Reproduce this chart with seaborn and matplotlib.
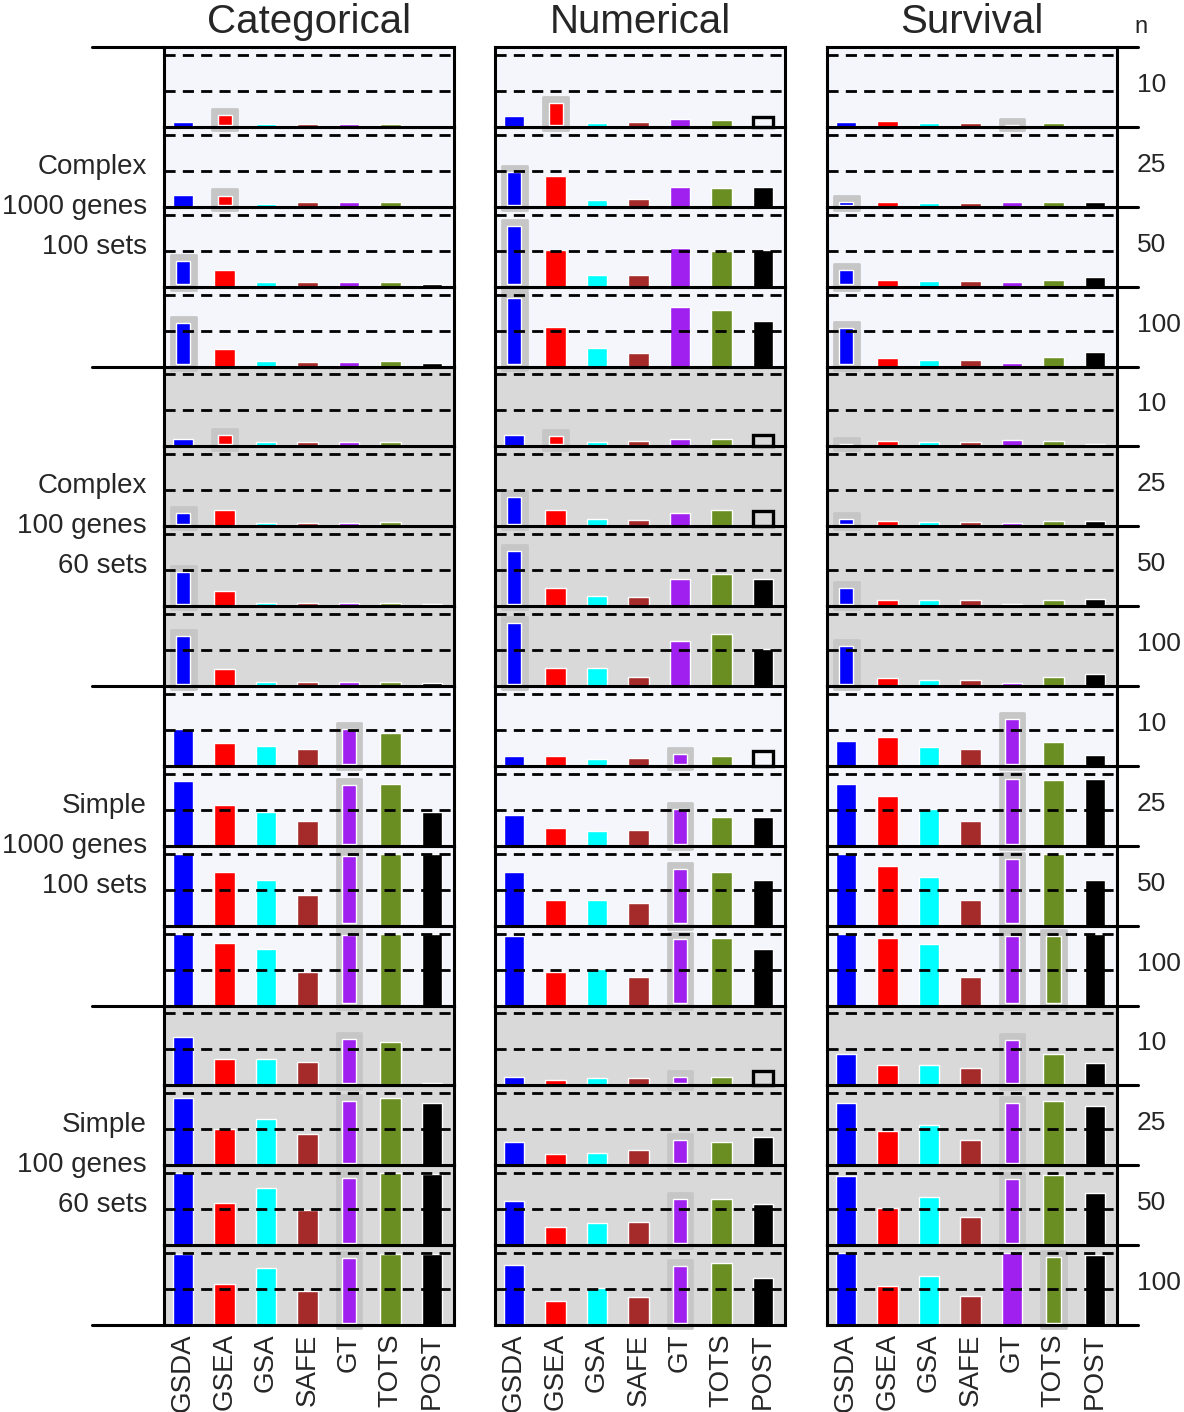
import numpy as np
import pandas as pd
import matplotlib
matplotlib.use('Agg')
import matplotlib.pyplot as plt
from matplotlib.lines import Line2D
import seaborn as sns

nan = np.nan

methods = ['GSDA', 'GSEA', 'GSA', 'SAFE', 'GT', 'TOTS', 'POST']
method_colors = ['#0000ff', '#ff0000', '#00ffff', '#a52a2a', '#a020f0', '#6b8e23', '#000000']
tests = ['Categorical', 'Numerical', 'Survival']
n_values = ['10', '25', '50', '100']
scenarios = [['Complex', '1000 genes', '100 sets'],
             ['Complex', '100 genes', '60 sets'],
             ['Simple', '1000 genes', '100 sets'],
             ['Simple', '100 genes', '60 sets']]

# power per row (scenario x n), one value per method
cat_values = [
    [0.07, 0.16, 0.045, 0.045, 0.045, 0.045, nan],
    [0.17, 0.155, 0.045, 0.06, 0.06, 0.06, nan],
    [0.35, 0.23, 0.07, 0.06, 0.06, 0.07, 0.035],
    [0.60, 0.24, 0.07, 0.06, 0.06, 0.07, 0.045],
    [0.10, 0.155, 0.055, 0.065, 0.065, 0.065, nan],
    [0.18, 0.22, 0.05, 0.045, 0.045, 0.06, nan],
    [0.48, 0.21, 0.05, 0.05, 0.05, 0.05, 0.03],
    [0.69, 0.23, 0.06, 0.06, 0.06, 0.06, 0.04],
    [0.51, 0.32, 0.28, 0.24, 0.51, 0.46, nan],
    [0.90, 0.56, 0.47, 0.35, 0.85, 0.86, 0.47],
    [1.00, 0.74, 0.64, 0.42, 0.97, 1.00, 0.99],
    [1.00, 0.87, 0.78, 0.46, 0.98, 1.00, 1.00],
    [0.67, 0.36, 0.37, 0.32, 0.64, 0.60, 0.035],
    [0.93, 0.51, 0.65, 0.44, 0.89, 0.93, 0.86],
    [1.00, 0.58, 0.79, 0.49, 0.94, 1.00, 0.99],
    [0.99, 0.57, 0.79, 0.47, 0.93, 0.99, 0.99],
]
num_values = [
    [0.155, 0.33, 0.06, 0.065, 0.115, 0.10, nan],
    [0.48, 0.43, 0.10, 0.11, 0.27, 0.26, 0.27],
    [0.84, 0.51, 0.16, 0.16, 0.54, 0.50, 0.51],
    [0.95, 0.55, 0.26, 0.19, 0.83, 0.78, 0.63],
    [0.155, 0.145, 0.06, 0.075, 0.10, 0.10, nan],
    [0.40, 0.22, 0.10, 0.08, 0.19, 0.22, nan],
    [0.77, 0.25, 0.14, 0.12, 0.38, 0.45, 0.38],
    [0.87, 0.25, 0.25, 0.13, 0.63, 0.72, 0.52],
    [0.14, 0.14, 0.10, 0.11, 0.16, 0.14, nan],
    [0.43, 0.25, 0.21, 0.22, 0.51, 0.40, 0.40],
    [0.75, 0.35, 0.35, 0.32, 0.79, 0.74, 0.64],
    [0.96, 0.46, 0.51, 0.39, 0.93, 0.94, 0.79],
    [0.11, 0.08, 0.10, 0.10, 0.12, 0.12, nan],
    [0.32, 0.15, 0.17, 0.21, 0.35, 0.33, 0.39],
    [0.61, 0.25, 0.31, 0.32, 0.64, 0.64, 0.57],
    [0.83, 0.33, 0.51, 0.39, 0.82, 0.86, 0.65],
]
surv_values = [
    [0.065, 0.08, 0.055, 0.055, 0.03, 0.055, nan],
    [0.06, 0.065, 0.055, 0.055, 0.065, 0.065, 0.065],
    [0.23, 0.09, 0.075, 0.075, 0.065, 0.09, 0.13],
    [0.54, 0.115, 0.09, 0.09, 0.045, 0.13, 0.20],
    [0.03, 0.08, 0.065, 0.065, 0.09, 0.08, 0.035],
    [0.10, 0.075, 0.055, 0.055, 0.045, 0.075, 0.075],
    [0.25, 0.08, 0.08, 0.08, 0.035, 0.09, 0.10],
    [0.55, 0.11, 0.09, 0.09, 0.045, 0.13, 0.16],
    [0.35, 0.40, 0.26, 0.24, 0.65, 0.33, 0.15],
    [0.86, 0.69, 0.51, 0.35, 0.93, 0.92, 0.93],
    [0.99, 0.83, 0.68, 0.36, 0.93, 0.99, 0.64],
    [1.00, 0.94, 0.86, 0.40, 0.96, 0.96, 1.00],
    [0.44, 0.28, 0.29, 0.24, 0.63, 0.43, 0.31],
    [0.86, 0.47, 0.56, 0.35, 0.87, 0.90, 0.83],
    [0.96, 0.51, 0.67, 0.39, 0.92, 0.97, 0.72],
    [1.00, 0.54, 0.68, 0.40, 1.00, 0.94, 0.97],
]

# methods drawn with the grey highlight, per row
cat_marked = [['GSEA'], ['GSEA'], ['GSDA'], ['GSDA'], ['GSEA'], ['GSDA'], ['GSDA'], ['GSDA']] + [['GT']] * 8
num_marked = [['GSEA'], ['GSDA'], ['GSDA'], ['GSDA'], ['GSEA'], ['GSDA'], ['GSDA'], ['GSDA']] + [['GT']] * 8
surv_marked = [['GT'], ['GSDA'], ['GSDA'], ['GSDA'], ['GSDA'], ['GSDA'], ['GSDA'], ['GSDA'],
               ['GT'], ['GT'], ['GT'], ['GT', 'TOTS'], ['GT'], ['GT'], ['GT'], ['TOTS']]

# POST not available (open box), row -> box height
num_post_na = {0: 0.14, 4: 0.16, 5: 0.21, 8: 0.2, 12: 0.2}

all_values = [cat_values, num_values, surv_values]
all_marked = [cat_marked, num_marked, surv_marked]
all_na = [{}, num_post_na, {}]

records = []
for t, test in enumerate(tests):
    for r in range(16):
        for m, meth in enumerate(methods):
            records.append({'test': test, 'row': r, 'method': meth,
                            'value': all_values[t][r][m],
                            'marked': meth in all_marked[t][r]})
df = pd.DataFrame(records)

sns.set_theme(style='white')
plt.rcParams['font.family'] = ['Liberation Sans', 'DejaVu Sans']

W, H = 1184, 1412
fig = plt.figure(figsize=(W / 100, H / 100), dpi=100)

col_left = [164, 495, 827]
col_w = 290
top, bottom = 47, 1325
row_h = (bottom - top) / 16
bg_colors = ['#f5f6fc', '#d9d9d9', '#f5f6fc', '#d9d9d9']
grey = '#c6c6c6'
palette = dict(zip(methods, method_colors))


def fx(x):
    return x / W


def fy(y):
    return 1 - y / H


for t, test in enumerate(tests):
    for r in range(15, -1, -1):
        y0 = top + r * row_h
        ax = fig.add_axes([fx(col_left[t]), fy(y0 + row_h), col_w / W, row_h / H])
        ax.set_facecolor(bg_colors[r // 4])
        sub = df[(df['test'] == test) & (df['row'] == r)]
        plain = sub[~sub['marked'] & sub['value'].notna()]
        sns.barplot(data=plain, x='method', y='value', hue='method', order=methods,
                    hue_order=methods, palette=palette, width=0.5, saturation=1,
                    legend=False, ax=ax, zorder=3)
        for _, row in sub[sub['marked']].iterrows():
            xi = methods.index(row['method'])
            v = row['value']
            gb = ax.bar(xi, v + 0.085 + 0.045, bottom=-0.045, width=0.6, color=grey,
                        edgecolor=grey, linewidth=2, zorder=2, clip_on=False)
            for p in gb.patches:
                p.set_joinstyle('round')
            ax.bar(xi, max(v - 0.03, 0), bottom=0.03, width=0.34,
                   color=palette[row['method']], zorder=3)
        if r in all_na[t]:
            ax.bar(methods.index('POST'), all_na[t][r], width=0.46, facecolor='none',
                   edgecolor='black', linewidth=2.4, zorder=3, clip_on=False)
        for yl in (0.5, 1.0):
            ax.axhline(yl, color='black', lw=2.0, ls=(0, (4, 2.6)), zorder=4)
        ax.set_xlim(-0.46, 6.53)
        ax.set_ylim(0, 80 / 72)
        ax.set_xlabel('')
        ax.set_ylabel('')
        ax.set_yticks([])
        for s in ax.spines.values():
            s.set_color('black')
            s.set_linewidth(2.2)
            s.set_zorder(5)
        if r == 15:
            ax.set_xticks(range(len(methods)))
            ax.set_xticklabels(methods, rotation=90, fontsize=20, va='top')
            ax.tick_params(axis='x', length=0, pad=6)
        else:
            ax.set_xticks([])

    fig.text(fx(col_left[t] + col_w / 2), fy(22), test, ha='center', va='center', fontsize=29)

# separator lines outside the panels
for k in range(5):
    y = top + 4 * k * row_h
    fig.add_artist(Line2D([fx(92), fx(col_left[0])], [fy(y), fy(y)], color='black', lw=2.2))
for k in range(17):
    y = top + k * row_h
    fig.add_artist(Line2D([fx(col_left[2] + col_w), fx(1138)], [fy(y), fy(y)], color='black', lw=2.2))

fig.text(fx(1141), fy(27), 'n', ha='center', va='center', fontsize=17)
for r in range(16):
    yc = top + (r + 0.5) * row_h - 2
    fig.text(fx(1137), fy(yc), n_values[r % 4], ha='left', va='center', fontsize=19)

for b, lines in enumerate(scenarios):
    yc = top + (b * 4 + 2) * row_h
    for i, txt in enumerate(lines):
        fig.text(fx(147), fy(yc + (i - 1) * 40), txt, ha='right', va='center', fontsize=20)

fig.savefig('out.png', dpi=100)
